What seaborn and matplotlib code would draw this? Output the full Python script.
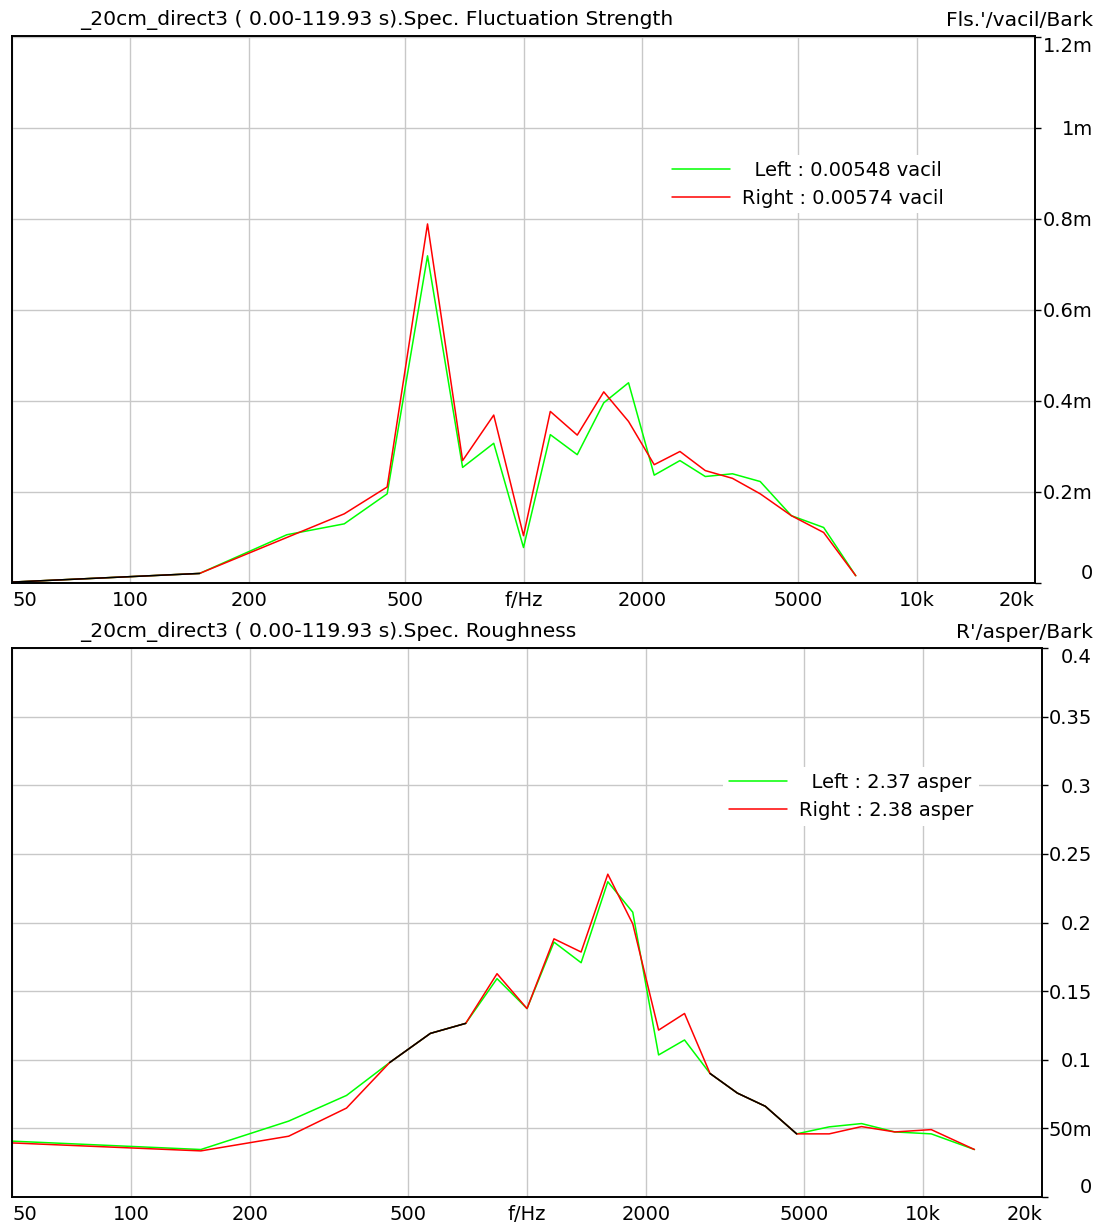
import numpy as np
import pandas as pd
import matplotlib
matplotlib.use("Agg")
import matplotlib.pyplot as plt
from matplotlib.lines import Line2D
from matplotlib.ticker import NullLocator
import seaborn as sns

# ---------------- data ----------------
# Zwicker critical-band centre frequencies (Hz)
freq_fs = [50, 150, 250, 350, 450, 570, 700, 840, 1000, 1170, 1370, 1600,
           1850, 2150, 2500, 2900, 3400, 4000, 4800, 5800, 7000]
# specific fluctuation strength, in milli-vacil/Bark
fs_left = [0.002, 0.021, 0.106, 0.130, 0.196, 0.719, 0.254, 0.307, 0.078,
           0.326, 0.282, 0.396, 0.440, 0.237, 0.269, 0.234, 0.240, 0.223,
           0.148, 0.122, 0.016]
fs_right = [0.002, 0.021, 0.100, 0.152, 0.211, 0.789, 0.269, 0.369, 0.104,
            0.377, 0.325, 0.420, 0.355, 0.260, 0.289, 0.247, 0.230, 0.196,
            0.148, 0.111, 0.016]

freq_r = [50, 150, 250, 350, 450, 570, 700, 840, 1000, 1170, 1370, 1600,
          1850, 2150, 2500, 2900, 3400, 4000, 4800, 5800, 7000, 8500, 10500,
          13500]
# specific roughness, asper/Bark
r_left = [0.0407, 0.0346, 0.0553, 0.0740, 0.098, 0.1192, 0.1265, 0.1591,
          0.1373, 0.1857, 0.1707, 0.2297, 0.2075, 0.1035, 0.1144, 0.090,
          0.0757, 0.0661, 0.046, 0.0511, 0.0535, 0.0474, 0.0460, 0.0346]
r_right = [0.0394, 0.0336, 0.0443, 0.0648, 0.098, 0.1192, 0.1265, 0.1627,
           0.1373, 0.1881, 0.1785, 0.2352, 0.1990, 0.1216, 0.1337, 0.090,
           0.0757, 0.0661, 0.046, 0.0460, 0.0513, 0.0474, 0.0491, 0.0346]

x_ticks = [50, 100, 200, 500, 1000, 2000, 5000, 10000, 20000]
x_ticklabels = ["50", "100", "200", "500", "f/Hz", "2000", "5000", "10k", "20k"]

fs_yticks = [0, 0.2, 0.4, 0.6, 0.8, 1.0, 1.2]
fs_yticklabels = ["0", "0.2m", "0.4m", "0.6m", "0.8m", "1m", "1.2m"]
r_yticks = [0, 0.05, 0.1, 0.15, 0.2, 0.25, 0.3, 0.35, 0.4]
r_yticklabels = ["0", "50m", "0.1", "0.15", "0.2", "0.25", "0.3", "0.35", "0.4"]

fs_title = "_20cm_direct3 ( 0.00-119.93 s).Spec. Fluctuation Strength"
fs_unit = "Fls.'/vacil/Bark"
fs_legend = ["  Left : 0.00548 vacil", "Right : 0.00574 vacil"]
r_title = "_20cm_direct3 ( 0.00-119.93 s).Spec. Roughness"
r_unit = "R'/asper/Bark"
r_legend = ["  Left : 2.37 asper", "Right : 2.38 asper"]

GREEN = "#00ff00"
RED = "#ff0000"

# ---------------- style ----------------
sns.set_style("white")
plt.rcParams["font.family"] = ["DejaVu Sans"]
plt.rcParams["text.color"] = "black"
plt.rcParams["xtick.color"] = "black"
plt.rcParams["ytick.color"] = "black"
FS = 14
FS_TITLE = 14.6

W, H = 1102, 1230
fig = plt.figure(figsize=(W / 100, H / 100), dpi=100)
fig.patch.set_facecolor("white")


def long_df(freq, left, right):
    return pd.DataFrame({
        "freq": list(freq) * 2,
        "value": list(left) + list(right),
        "channel": ["Left"] * len(freq) + ["Right"] * len(freq),
    })


def overlap_df(freq, left, right):
    left = np.asarray(left)
    right = np.asarray(right)
    eq = np.isclose(left, right, atol=1e-9)
    rows, seg, prev = [], 0, False
    for i, e in enumerate(eq):
        if e and not prev:
            seg += 1
        if e:
            rows.append((freq[i], left[i], seg))
        prev = e
    df = pd.DataFrame(rows, columns=["freq", "value", "seg"])
    if len(df):
        counts = df.groupby("seg").size()
        df = df[df["seg"].isin(counts[counts >= 2].index)]
    return df


def panel(rect, freq, left, right, ylim, yticks, yticklabels, title, unit,
          legend_labels, legend_anchor, title_y):
    ax = fig.add_axes(rect)
    ax.set_xscale("log")
    df = long_df(freq, left, right)
    sns.lineplot(data=df, x="freq", y="value", hue="channel",
                 palette={"Left": GREEN, "Right": RED},
                 hue_order=["Left", "Right"], estimator=None,
                 legend=False, lw=1.1, ax=ax)
    ov = overlap_df(freq, left, right)
    if len(ov):
        sns.lineplot(data=ov, x="freq", y="value", units="seg",
                     estimator=None, color="black", lw=1.1, legend=False,
                     ax=ax)
    ax.set_xlim(50, 20000)
    ax.set_ylim(*ylim)
    ax.set_xlabel("")
    ax.set_ylabel("")
    ax.set_xticks(x_ticks)
    ax.set_xticklabels(x_ticklabels)
    ax.xaxis.set_minor_locator(NullLocator())
    ax.set_yticks(yticks)
    ax.set_yticklabels(yticklabels)
    ax.yaxis.tick_right()
    ax.tick_params(axis="x", direction="out", length=3, width=1,
                   pad=3, labelsize=FS, colors="black")
    ax.tick_params(axis="y", direction="out", length=4, width=1,
                   labelsize=FS, colors="black")
    for s in ax.spines.values():
        s.set_visible(True)
        s.set_color("black")
        s.set_linewidth(1.4)
    ax.grid(True, color="#c8c8c8", lw=1.0)
    ax.set_axisbelow(True)
    xl = ax.get_xticklabels()
    xl[0].set_ha("left")
    xl[-1].set_ha("right")
    handles = [Line2D([], [], color=GREEN, lw=1.1),
               Line2D([], [], color=RED, lw=1.1)]
    leg = ax.legend(handles, legend_labels, loc="center left",
                    bbox_to_anchor=legend_anchor, frameon=True,
                    fontsize=FS, handlelength=3.0, handletextpad=0.6,
                    labelspacing=0.45, borderpad=0.3, borderaxespad=0)
    leg.get_frame().set_facecolor("white")
    leg.get_frame().set_edgecolor("none")
    leg.get_frame().set_alpha(1)
    for t in leg.get_texts():
        t.set_color("black")
    fig.text(80 / W, 1 - title_y / H, title, ha="left", va="center",
             fontsize=FS_TITLE, color="black")
    fig.text(1093 / W, 1 - title_y / H, unit, ha="right", va="center",
             fontsize=FS_TITLE, color="black")
    return ax


ax1 = panel([12 / W, 1 - 583 / H, 1023 / W, 547 / H],
            freq_fs, fs_left, fs_right, (0, 1.202), fs_yticks,
            fs_yticklabels, fs_title, fs_unit, fs_legend,
            (0.639, 0.729), 20)
ax2 = panel([12 / W, 1 - 1197 / H, 1030 / W, 549 / H],
            freq_r, r_left, r_right, (0, 0.4), r_yticks,
            r_yticklabels, r_title, r_unit, r_legend,
            (0.690, 0.7295), 632)

# right-aligned y tick labels at the right margin
fig.canvas.draw()
for ax, right_px in ((ax1, 1093), (ax2, 1092)):
    axis_right = ax.get_position().x1 * W
    pad_pt = (right_px - axis_right - 4 * 100 / 72) * 72 / 100
    ax.tick_params(axis="y", pad=pad_pt)
    for lab in ax.get_yticklabels():
        lab.set_ha("right")
        lab.set_color("black")
    yl = ax.get_yticklabels()
    yl[0].set_va("bottom")
    yl[-1].set_va("top")
    for lab in ax.get_xticklabels():
        lab.set_color("black")

fig.savefig("out.png", dpi=100, facecolor="white")
